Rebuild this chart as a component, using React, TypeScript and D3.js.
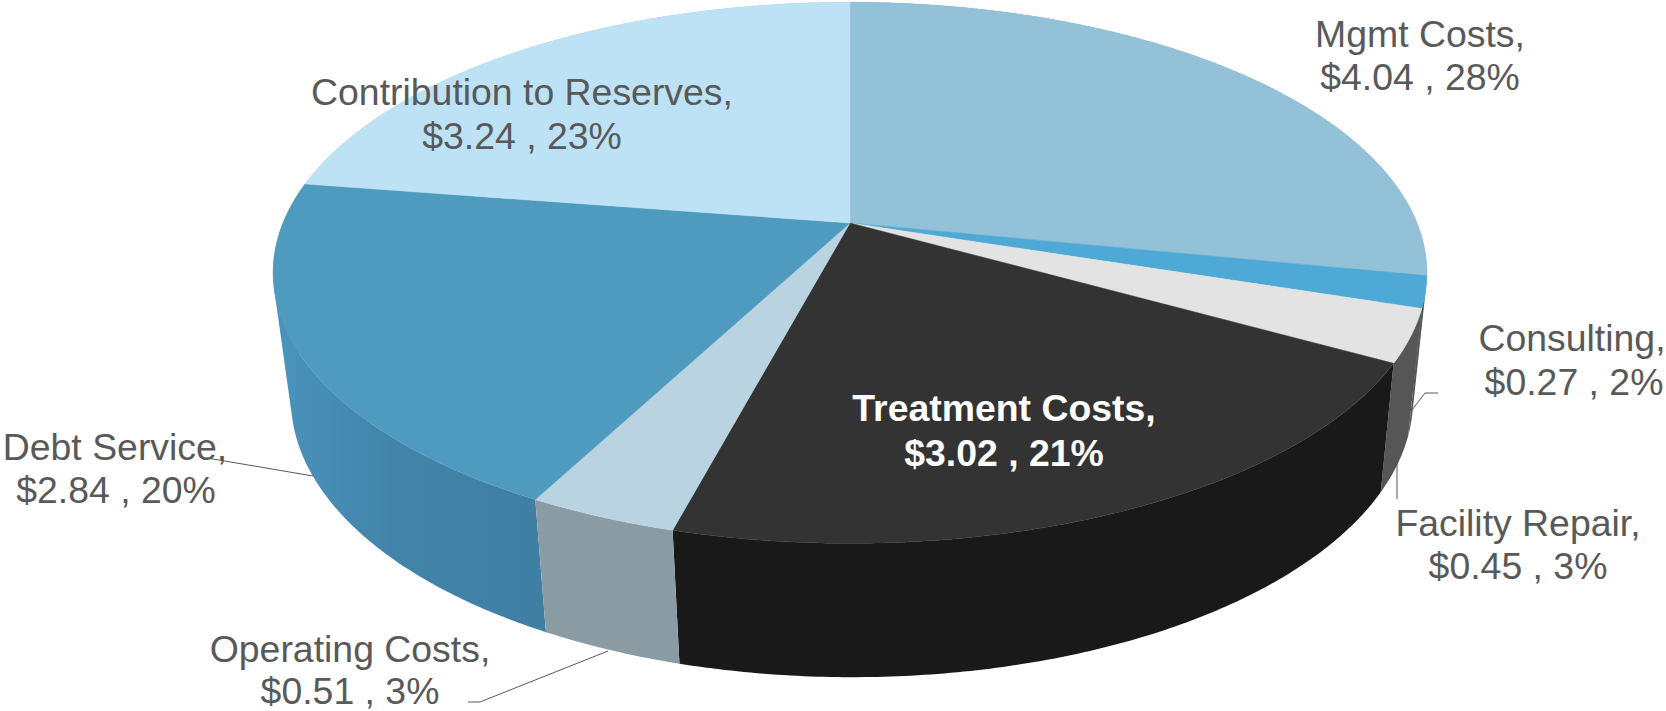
import React from "react";
import * as d3 from "d3";

// Annual cost breakdown, clockwise from 12 o'clock.
const categories = ["Mgmt Costs", "Consulting", "Facility Repair", "Treatment Costs", "Operating Costs", "Debt Service", "Contribution to Reserves"];
const amounts = [4.04, 0.27, 0.45, 3.02, 0.51, 2.84, 3.24];
const percents = [28, 2, 3, 21, 3, 20, 23];
const topColors = ["#93C1D8", "#4FA9D6", "#E3E3E3", "#343333", "#B9D3E0", "#4F9ABF", "#BDE2F5"];
const wallColors = ["#7FA6BA", "#565656", "#565656", "#191919", "#8A9BA4", "#3F81A4", "#98B5C5"];

const WIDTH = 1666;
const HEIGHT = 711;
const TILT = 0.184;
const topDisc = { cx: 850, cy: 223, rx: 567, ry: 261.4 };
const baseDisc = { cx: 852, cy: 348, rx: 551.5, ry: 268.6 };

type Disc = typeof topDisc;

// Perspective projection of a point on the unit disc, angle measured clockwise from north.
const project = (disc: Disc, angle: number, r = 1): [number, number] => {
  const x = r * Math.sin(angle);
  const y = -r * Math.cos(angle);
  const d = 1 - TILT * y;
  return [disc.cx + (disc.rx * x) / d, disc.cy + (disc.ry * y) / d];
};

const angleSteps = (a0: number, a1: number) => {
  const n = Math.max(2, Math.ceil((a1 - a0) / 0.01));
  return d3.range(n + 1).map((i) => a0 + ((a1 - a0) * i) / n);
};

const outline = d3.line().curve(d3.curveLinear);

const slices = d3.pie<number>().sort(null)(amounts);

// The side of a slice is the union of thin quads between the two discs,
// which keeps the straight silhouette where the discs' outlines cross.
const wallPath = (a0: number, a1: number) => {
  const steps = angleSteps(a0, a1);
  return d3
    .pairs(steps)
    .map(([p, q]) => {
      const hull = d3.polygonHull([
        project(topDisc, p),
        project(topDisc, q),
        project(baseDisc, p),
        project(baseDisc, q),
      ]);
      return hull ? outline(hull) + "Z" : "";
    })
    .join("");
};

const labelLayout = [
  { x: 1420, x2: 1420, y: 47, y2: 90 },
  { x: 1572, x2: 1574, y: 351, y2: 395 },
  { x: 1518, x2: 1518, y: 536, y2: 579 },
  { x: 1004, x2: 1004, y: 421, y2: 466 },
  { x: 350, x2: 350, y: 662, y2: 704 },
  { x: 115, x2: 116, y: 460, y2: 503 },
  { x: 522, x2: 522, y: 105, y2: 149 },
];

const leaderLines: [number, number][][] = [
  [[1438, 393], [1425, 393], [1412, 410]],
  [[1397, 499], [1397, 462]],
  [[468, 702], [480, 702], [608, 651]],
  [[207, 458], [313, 476]],
];

export default function App() {
  // Back walls are painted first so the near ones cover them.
  const wallOrder = d3
    .range(slices.length)
    .sort(
      (a, b) =>
        project(topDisc, (slices[a].startAngle + slices[a].endAngle) / 2)[1] -
        project(topDisc, (slices[b].startAngle + slices[b].endAngle) / 2)[1],
    );

  return (
    <svg
      width={WIDTH}
      height={HEIGHT}
      viewBox={`0 0 ${WIDTH} ${HEIGHT}`}
      style={{ position: "absolute", left: 0, top: 0, display: "block", background: "#fff" }}
    >
      <defs>
        <linearGradient id="debtWall" gradientUnits="userSpaceOnUse" x1="280" y1="0" x2="545" y2="0">
          <stop offset="0" stopColor="#4A93BC" />
          <stop offset="0.45" stopColor="#4283A8" />
          <stop offset="1" stopColor="#3E7FA3" />
        </linearGradient>
      </defs>
      <g>
        {wallOrder.map((i) => {
          const s = slices[i];
          const fill = i === 5 ? "url(#debtWall)" : wallColors[i];
          return <path key={categories[i]} d={wallPath(s.startAngle, s.endAngle)} fill={fill} />;
        })}
      </g>
      <g>
        {slices.map((s, i) => {
          const pts = [
            project(topDisc, 0, 0),
            ...angleSteps(s.startAngle, s.endAngle).map((a) => project(topDisc, a)),
          ] as [number, number][];
          return (
            <path
              key={categories[i]}
              d={outline(pts) + "Z"}
              fill={topColors[i]}
              stroke={topColors[i]}
              strokeWidth={0.5}
            />
          );
        })}
      </g>
      <g fill="none" stroke="#595959" strokeWidth={1}>
        {leaderLines.map((l, i) => (
          <path key={i} d={outline(l) ?? ""} />
        ))}
      </g>
      <g fontFamily="'Liberation Sans', Arial, sans-serif" fontSize={37.4} textAnchor="middle">
        {categories.map((c, i) => {
          const strong = c === "Treatment Costs";
          const props = { fill: strong ? "#FFFFFF" : "#595959", fontWeight: strong ? 700 : 400 };
          const pos = labelLayout[i];
          return (
            <g key={c} {...props}>
              <text x={pos.x} y={pos.y}>{`${c},`}</text>
              <text x={pos.x2} y={pos.y2}>{`$${amounts[i].toFixed(2)} , ${percents[i]}%`}</text>
            </g>
          );
        })}
      </g>
    </svg>
  );
}
